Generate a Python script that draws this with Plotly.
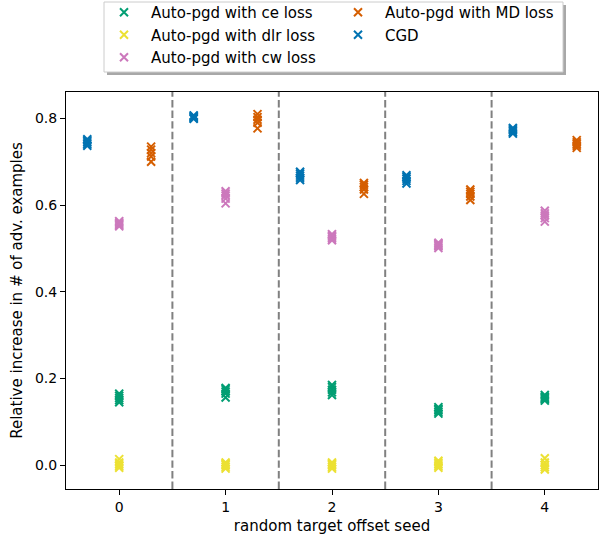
import plotly.graph_objects as go

seeds = [0, 1, 2, 3, 4]

ce_loss = [
    [0.145, 0.150, 0.155, 0.160, 0.165],
    [0.156, 0.165, 0.170, 0.175, 0.178],
    [0.162, 0.168, 0.174, 0.180, 0.185],
    [0.119, 0.123, 0.127, 0.130, 0.134],
    [0.149, 0.152, 0.155, 0.158, 0.162],
]
dlr_loss = [
    [-0.006, -0.002, 0.002, 0.006, 0.014],
    [-0.008, -0.004, 0.000, 0.003, 0.006],
    [-0.008, -0.004, 0.000, 0.003, 0.006],
    [-0.006, -0.002, 0.002, 0.006, 0.010],
    [-0.010, -0.005, 0.000, 0.006, 0.016],
]
cw_loss = [
    [0.551, 0.554, 0.557, 0.560, 0.563],
    [0.604, 0.615, 0.622, 0.627, 0.632],
    [0.519, 0.523, 0.527, 0.530, 0.533],
    [0.501, 0.505, 0.508, 0.511, 0.513],
    [0.562, 0.570, 0.576, 0.581, 0.587],
]
md_loss = [
    [0.700, 0.712, 0.720, 0.728, 0.735],
    [0.777, 0.790, 0.797, 0.803, 0.810],
    [0.626, 0.636, 0.642, 0.647, 0.651],
    [0.612, 0.620, 0.626, 0.631, 0.636],
    [0.732, 0.737, 0.741, 0.745, 0.750],
]
cgd = [
    [0.737, 0.741, 0.745, 0.749, 0.752],
    [0.799, 0.801, 0.803, 0.805, 0.807],
    [0.658, 0.663, 0.668, 0.673, 0.677],
    [0.650, 0.656, 0.661, 0.665, 0.669],
    [0.765, 0.768, 0.772, 0.775, 0.778],
]

y_ticks = [0.0, 0.2, 0.4, 0.6, 0.8]

series = [
    # (name, values, offset, color) ordered so that horizontal legend reads column-wise
    ("Auto-pgd with ce loss", ce_loss, 0.0, "#029e73"),
    ("Auto-pgd with MD loss", md_loss, 0.3, "#d55e00"),
    ("Auto-pgd with dlr loss", dlr_loss, 0.0, "#ece133"),
    ("CGD", cgd, -0.3, "#0173b2"),
    ("Auto-pgd with cw loss", cw_loss, 0.0, "#cc78bc"),
]

W, H = 602, 538
L, R, T, B = 66, 4, 92, 49
PW, PH = W - L - R, H - T - B


def px_x(p):
    return (p - L) / PW


def px_y(p):
    return (H - B - p) / PH


fig = go.Figure()
for name, vals, off, color in series:
    xs, ys = [], []
    for s, row in zip(seeds, vals):
        for v in row:
            xs.append(s + off)
            ys.append(v)
    fig.add_trace(go.Scatter(
        x=xs, y=ys, mode="markers", name=name,
        marker=dict(symbol="x-thin", size=8, line=dict(width=2, color=color), color=color),
    ))

for s in seeds[:-1]:
    fig.add_shape(type="line", x0=s + 0.5, x1=s + 0.5, y0=0, y1=1,
                  xref="x", yref="paper",
                  line=dict(color="#808080", width=2, dash="7.4px,3.2px"))

# legend shadow and frame
fig.add_shape(type="rect", xref="paper", yref="paper",
              x0=px_x(107), x1=px_x(566), y0=px_y(75), y1=px_y(5),
              fillcolor="#a8a8a8", line=dict(width=0), layer="below")
fig.add_shape(type="rect", xref="paper", yref="paper",
              x0=px_x(104), x1=px_x(563), y0=px_y(72), y1=px_y(2),
              fillcolor="white", line=dict(width=1, color="#cccccc"), layer="below")

tick_font = dict(family="DejaVu Sans", size=14, color="black")
big_font = dict(family="DejaVu Sans", size=15, color="black")
axis_common = dict(
    showline=True, linecolor="black", linewidth=1, mirror=True,
    ticks="outside", ticklen=5, tickcolor="black", tickwidth=1,
    showgrid=False, zeroline=False, tickfont=tick_font, automargin=False,
)

fig.update_layout(
    width=W, height=H,
    margin=dict(l=L, r=R, t=T, b=B, autoexpand=False),
    plot_bgcolor="white", paper_bgcolor="white",
    font=tick_font,
    xaxis=dict(range=[-0.5, 4.5], tickvals=seeds, ticktext=[str(s) for s in seeds],
               title=dict(text="random target offset seed", font=big_font, standoff=6),
               **axis_common),
    yaxis=dict(range=[-0.055, 0.861], tickvals=y_ticks,
               ticktext=[f"{t:.1f}" for t in y_ticks],
               title=dict(text="Relative increase in # of adv. examples", font=big_font, standoff=8),
               **axis_common),
    legend=dict(orientation="h", x=px_x(97), xanchor="left", y=px_y(-4), yanchor="top",
                xref="paper", yref="paper", entrywidth=175, entrywidthmode="pixels",
                itemwidth=44,
                bgcolor="rgba(0,0,0,0)", borderwidth=0,
                font=big_font, tracegroupgap=0),
    showlegend=True,
)

fig.write_html("out.html", config={"displayModeBar": False},
               post_script="document.body.style.margin='0';")
